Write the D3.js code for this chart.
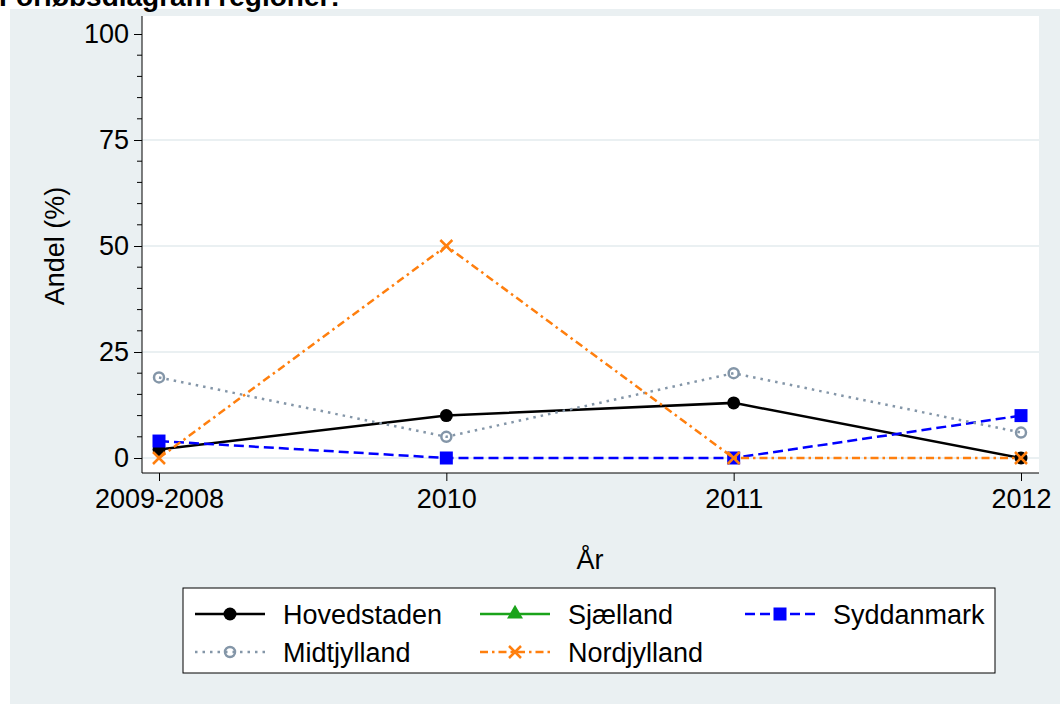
<!DOCTYPE html>
<html>
<head>
<meta charset="utf-8">
<script src="https://cdn.jsdelivr.net/npm/d3@7"></script>
<style>
  body { margin: 0; background: #fff; }
  text { font-family: "Liberation Sans", Arial, Helvetica, sans-serif; }
</style>
</head>
<body>
<div id="chart"></div>
<script>
// data
var years = ["2009-2008", "2010", "2011", "2012"];
var hovedstaden = [2, 10, 13, 0];
var sjaelland = [null, null, null, null];
var syddanmark = [4, 0, 0, 10];
var midtjylland = [19, 5, 20, 6];
var nordjylland = [0, 50, 0, 0];
var yticks = [0, 25, 50, 75, 100];

var svgwidth = 1060;
var svgheight = 704;

var svg = d3.select("#chart").append("svg")
  .attr("width", svgwidth)
  .attr("height", svgheight);

// outer graph region
svg.append("rect")
  .attr("x", 10).attr("y", 9)
  .attr("width", svgwidth - 10).attr("height", svgheight - 9)
  .attr("fill", "#eaf0f2");

// title, partly cut off at the top like the original
svg.append("text")
  .attr("x", -1).attr("y", 6)
  .attr("font-size", "28px")
  .attr("font-weight", "bold")
  .attr("fill", "#000")
  .text("Forløbsdiagram regioner:");

var plot = { left: 142, right: 1039, top: 16, bottom: 473 };

svg.append("rect")
  .attr("x", plot.left).attr("y", plot.top)
  .attr("width", plot.right - plot.left).attr("height", plot.bottom - plot.top)
  .attr("fill", "#fff");

var xscale = d3.scalePoint()
  .domain(years)
  .range([159, 1021]);

var yscale = d3.scaleLinear()
  .domain([0, 100])
  .range([458, 34]);

// gridlines
svg.append("g")
  .selectAll("line")
  .data(yticks.filter(d => d < 100))
  .enter().append("line")
  .attr("x1", plot.left).attr("x2", plot.right)
  .attr("y1", d => yscale(d)).attr("y2", d => yscale(d))
  .attr("stroke", "#eaf0f2")
  .attr("stroke-width", 2);

// y axis
var yaxis = d3.axisLeft(yscale).tickValues(yticks).tickSize(8).tickPadding(5);
var yg = svg.append("g")
  .attr("transform", `translate(${plot.left}, 0)`)
  .call(yaxis);
yg.select(".domain").attr("d", `M0,${plot.top}V${plot.bottom}`).attr("stroke", "#000");
yg.selectAll("text").attr("font-size", "27px").attr("font-family", null).attr("fill", "#000");
yg.selectAll(".tick line").attr("stroke", "#000");

// minor ticks
svg.append("g")
  .selectAll("line")
  .data(d3.range(0, 101, 5).filter(d => d % 25 !== 0))
  .enter().append("line")
  .attr("x1", plot.left - 5).attr("x2", plot.left)
  .attr("y1", d => yscale(d)).attr("y2", d => yscale(d))
  .attr("stroke", "#000");

// x axis
var xaxis = d3.axisBottom(xscale).tickSize(8).tickPadding(8);
var xg = svg.append("g")
  .attr("transform", `translate(0, ${plot.bottom})`)
  .call(xaxis);
xg.select(".domain").attr("d", `M${plot.left},0H${plot.right}`).attr("stroke", "#000");
xg.selectAll("text").attr("font-size", "27px").attr("font-family", null).attr("fill", "#000");
xg.selectAll(".tick line").attr("stroke", "#000");

// axis titles
svg.append("text")
  .attr("transform", `translate(64, 246) rotate(-90)`)
  .attr("text-anchor", "middle")
  .attr("font-size", "27px")
  .text("Andel (%)");

svg.append("text")
  .attr("x", 590).attr("y", 569)
  .attr("text-anchor", "middle")
  .attr("font-size", "27px")
  .text("År");

// series
var series = [
  { name: "Hovedstaden", values: hovedstaden, color: "#000000", dash: null, marker: "circle" },
  { name: "Sjælland", values: sjaelland, color: "#1aa31a", dash: null, marker: "triangle" },
  { name: "Syddanmark", values: syddanmark, color: "#0000ff", dash: "10,5", marker: "square" },
  { name: "Midtjylland", values: midtjylland, color: "#8496a8", dash: "2.5,5", marker: "hollow" },
  { name: "Nordjylland", values: nordjylland, color: "#ff7f0e", dash: "8,4,2.5,4", marker: "cross" }
];

function drawMarker(g, type, color, x, y) {
  if (type === "circle") {
    g.append("circle").attr("cx", x).attr("cy", y).attr("r", 6.5).attr("fill", color);
  } else if (type === "hollow") {
    g.append("circle").attr("cx", x).attr("cy", y).attr("r", 5)
      .attr("fill", "none").attr("stroke", color).attr("stroke-width", 2.5);
  } else if (type === "square") {
    g.append("rect").attr("x", x - 6.5).attr("y", y - 6.5).attr("width", 13).attr("height", 13)
      .attr("fill", color);
  } else if (type === "triangle") {
    g.append("path").attr("d", d3.symbol(d3.symbolTriangle, 110)()).attr("transform", `translate(${x},${y})`)
      .attr("fill", color);
  } else if (type === "cross") {
    g.append("path").attr("d", `M${x - 6},${y - 6}L${x + 6},${y + 6}M${x - 6},${y + 6}L${x + 6},${y - 6}`)
      .attr("stroke", color).attr("stroke-width", 2.5);
  }
}

var line = d3.line()
  .defined(d => d.v !== null)
  .x(d => xscale(d.year))
  .y(d => yscale(d.v));

series.forEach(function(s) {
  var pts = years.map((y, i) => ({ year: y, v: s.values[i] }));
  var g = svg.append("g");
  g.append("path")
    .datum(pts)
    .attr("d", line)
    .attr("fill", "none")
    .attr("stroke", s.color)
    .attr("stroke-width", 2.5)
    .attr("stroke-dasharray", s.dash);
  pts.filter(d => d.v !== null).forEach(function(d) {
    drawMarker(g, s.marker, s.color, xscale(d.year), yscale(d.v));
  });
});

// legend
svg.append("rect")
  .attr("x", 183).attr("y", 588)
  .attr("width", 812).attr("height", 85)
  .attr("fill", "#fff")
  .attr("stroke", "#000")
  .attr("stroke-width", 1);

var legendpos = [
  { x: 195, y: 614 }, { x: 480, y: 614 }, { x: 745, y: 614 },
  { x: 195, y: 652 }, { x: 480, y: 652 }
];

series.forEach(function(s, i) {
  var p = legendpos[i];
  var g = svg.append("g");
  g.append("line")
    .attr("x1", p.x).attr("x2", p.x + 70)
    .attr("y1", p.y).attr("y2", p.y)
    .attr("stroke", s.color)
    .attr("stroke-width", 2.5)
    .attr("stroke-dasharray", s.dash);
  drawMarker(g, s.marker, s.color, p.x + 35, p.y);
  g.append("text")
    .attr("x", p.x + 88).attr("y", p.y + 10)
    .attr("font-size", "27px")
    .text(s.name);
});
</script>
</body>
</html>
